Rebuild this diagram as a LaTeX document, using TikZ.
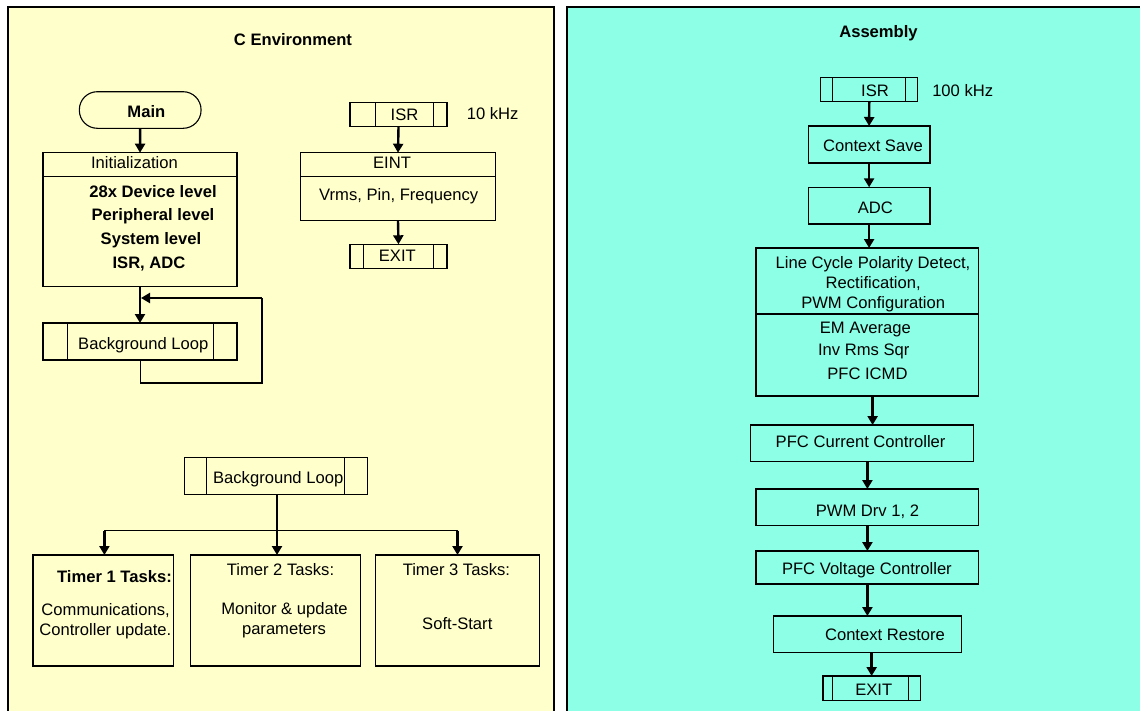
\documentclass[tikz,border=0pt]{standalone}
\usepackage{fontspec}
\setmainfont{Liberation Sans}
\usetikzlibrary{arrows.meta}
\definecolor{cyel}{RGB}{255,255,204}
\definecolor{caqua}{RGB}{140,255,230}
\begin{document}
\begin{tikzpicture}[x=1pt,y=-1pt,
  every node/.style={inner sep=0pt,outer sep=0pt},
  txt/.style={font=\fontsize{16.6}{19}\selectfont,text height=11.8pt,text depth=0pt,anchor=center},
  btxt/.style={txt,font=\fontsize{16.6}{19}\selectfont\bfseries},
  box/.style={draw,line width=1.1pt},
  bline/.style={line width=1.1pt},
  arr/.style={line width=2.4pt,-{Triangle[length=9pt,width=10pt]}},
  tline/.style={line width=1.5pt},
  panel/.style={draw,line width=2pt}]
\useasboundingbox (0,0) rectangle (1140,710);
\fill[white] (0,0) rectangle (1140,710);
\path[panel,fill=cyel] (8,7) rectangle (554,720);
\path[panel,fill=caqua] (567,7) rectangle (1150,720);

% ---------------- C environment ----------------
\node[btxt] (title1) at (293,40) {C Environment};

\node[box,rounded corners=18pt,minimum width=121.7pt,minimum height=36.6pt] (main) at (140.2,110) {};
\node[btxt] (mainT) at (146.4,111.7) {Main};

\node[box,minimum width=194pt,minimum height=134pt] (init) at (140,219.7) {};
\draw[bline] (init.west |- 0,176.7) -- (init.east |- 0,176.7);
\node[txt] (initT) at (134.5,162.7) {Initialization};
\node[btxt] (initA) at (153,191.7) {28x Device level};
\node[btxt] (initB) at (153,215) {Peripheral level};
\node[btxt] (initC) at (151,239) {System level};
\node[btxt] (initD) at (149,263) {ISR, ADC};

\node[box,minimum width=194pt,minimum height=37pt] (bl1) at (140,341.5) {};
\draw[bline] ([xshift=24.3pt]bl1.north west) -- ([xshift=24.3pt]bl1.south west);
\draw[bline] ([xshift=-23.2pt]bl1.north east) -- ([xshift=-23.2pt]bl1.south east);
\node[txt] (bl1T) at (143.3,343.3) {Background Loop};

\draw[arr] (main.south) -- (init.north);
\draw[arr] (init.south) -- (bl1.north);
\coordinate (lpA) at (140.5,383);
\coordinate (lpB) at (262,383);
\coordinate (lpC) at (262,298);
\coordinate (lpD) at (141,298);
\draw[tline] (bl1.south -| lpA) -- (lpA) -- (lpB) -- (lpC);
\draw[arr,line width=2.2pt] (lpC) -- (lpD);

% ISR 10 kHz
\node[box,minimum width=97pt,minimum height=24pt] (isr1) at (398.5,114.7) {};
\draw[bline] ([xshift=25.3pt]isr1.north west) -- ([xshift=25.3pt]isr1.south west);
\draw[bline] ([xshift=-13.2pt]isr1.north east) -- ([xshift=-13.2pt]isr1.south east);
\node[txt] (isr1T) at (404.5,114.3) {ISR};
\node[txt] (freq1) at (492.7,113.3) {10 kHz};

\node[box,minimum width=194.6pt,minimum height=68pt] (eint) at (398,186.7) {};
\draw[bline] (eint.west |- 0,176.7) -- (eint.east |- 0,176.7);
\node[txt] (eintT) at (392,162.5) {EINT};
\node[txt] (eintB) at (398.7,195) {Vrms, Pin, Frequency};

\node[box,minimum width=97pt,minimum height=24pt] (exit1) at (398.5,256.3) {};
\draw[bline] ([xshift=13.6pt]exit1.north west) -- ([xshift=13.6pt]exit1.south west);
\draw[bline] ([xshift=-13.2pt]exit1.north east) -- ([xshift=-13.2pt]exit1.south east);
\node[txt] (exit1T) at (397.3,256) {EXIT};

\draw[arr] (isr1.south) -- (eint.north);
\draw[arr] (eint.south) -- (exit1.north);

% Background loop tasks
\node[box,minimum width=182.9pt,minimum height=36.6pt] (bl2) at (275.85,476) {};
\draw[bline] ([xshift=22.1pt]bl2.north west) -- ([xshift=22.1pt]bl2.south west);
\draw[bline] ([xshift=-22.6pt]bl2.north east) -- ([xshift=-22.6pt]bl2.south east);
\node[txt] (bl2T) at (278.2,477.3) {Background Loop};

\node[box,line width=1.9pt,minimum width=140.8pt,minimum height=111pt] (t1) at (103.1,610.5) {};
\node[btxt] (t1A) at (114.5,577) {Timer 1 Tasks:};
\node[txt] (t1B) at (105.6,609.5) {Communications,};
\node[txt] (t1C) at (105.3,630) {Controller update.};

\node[box,minimum width=170.2pt,minimum height=111pt] (t2) at (275.6,610.5) {};
\node[txt] (t2A) at (280.5,570) {Timer 2 Tasks:};
\node[txt] (t2B) at (284.5,608.3) {Monitor \& update};
\node[txt] (t2C) at (284,628.3) {parameters};

\node[box,minimum width=164.3pt,minimum height=111pt] (t3) at (457.45,610.5) {};
\node[txt] (t3A) at (456.4,569.3) {Timer 3 Tasks:};
\node[txt] (t3B) at (457.3,624) {Soft-Start};

\coordinate (j1) at (104.4,530.7);
\coordinate (j2) at (277,530.7);
\coordinate (j3) at (457.5,530.7);
\draw[tline] (bl2.south -| j2) -- (j2);
\draw[tline] (j1) -- (j3);
\draw[arr] (j1) -- (j1 |- t1.north);
\draw[arr] (j2) -- (j2 |- t2.north);
\draw[arr] (j3) -- (j3 |- t3.north);

% ---------------- Assembly ----------------
\node[btxt] (title2) at (878.5,31.7) {Assembly};

\node[box,minimum width=97pt,minimum height=24pt] (isr2) at (869.3,89.7) {};
\draw[bline] ([xshift=11.5pt]isr2.north west) -- ([xshift=11.5pt]isr2.south west);
\draw[bline] ([xshift=-11.9pt]isr2.north east) -- ([xshift=-11.9pt]isr2.south east);
\node[txt] (isr2T) at (875,90.7) {ISR};
\node[txt] (freq2) at (962.7,91) {100 kHz};

\node[box,minimum width=121.8pt,minimum height=37pt] (cs) at (869.1,144.5) {};
\node[txt] (csT) at (873,146) {Context Save};

\node[box,minimum width=121.8pt,minimum height=36.7pt] (adc) at (869.1,205.65) {};
\node[txt] (adcT) at (875.4,207.3) {ADC};

\node[box,minimum width=222.8pt,minimum height=148pt] (big) at (867.4,322) {};
\draw[bline] (big.west |- 0,314) -- (big.east |- 0,314);
\node[txt] (bigA) at (873,262.7) {Line Cycle Polarity Detect,};
\node[txt] (bigB) at (873.2,282.7) {Rectification,};
\node[txt] (bigC) at (873.2,302.3) {PWM Configuration};
\node[txt] (bigD) at (865.4,327.7) {EM Average};
\node[txt] (bigE) at (863.7,350) {Inv Rms Sqr};
\node[txt] (bigF) at (867.4,374) {PFC ICMD};

\node[box,minimum width=222.7pt,minimum height=36.7pt] (pcc) at (861.85,443.35) {};
\node[txt] (pccT) at (860.6,441.7) {PFC Current Controller};

\node[box,minimum width=222.8pt,minimum height=36.3pt] (pwm) at (867.4,507.15) {};
\node[txt] (pwmT) at (867.4,511) {PWM Drv 1, 2};

\node[box,minimum width=222.8pt,minimum height=33pt] (pvc) at (867.4,567.5) {};
\node[txt] (pvcT) at (866.9,569) {PFC Voltage Controller};

\node[box,minimum width=188.3pt,minimum height=36.3pt] (cr) at (867.65,634.15) {};
\node[txt] (crT) at (885,635) {Context Restore};

\node[box,minimum width=97.3pt,minimum height=24.7pt] (exit2) at (871.65,688.35) {};
\draw[bline] ([xshift=9.7pt]exit2.north west) -- ([xshift=9.7pt]exit2.south west);
\draw[bline] ([xshift=-11.8pt]exit2.north east) -- ([xshift=-11.8pt]exit2.south east);
\node[txt] (exit2T) at (873.7,690) {EXIT};

\draw[arr] (isr2.south) -- (cs.north);
\draw[arr] (cs.south) -- (adc.north);
\draw[arr] (adc.south) -- (adc.south |- big.north);
\draw[arr] ([xshift=5.2pt]big.south) -- ([xshift=5.2pt]big.south |- pcc.north);
\draw[arr] (pwm.north |- pcc.south) -- (pwm.north);
\draw[arr] (pwm.south) -- (pvc.north);
\draw[arr] (pvc.south) -- (pvc.south |- cr.north);
\draw[arr] (exit2.north |- cr.south) -- (exit2.north);
\end{tikzpicture}
\end{document}
